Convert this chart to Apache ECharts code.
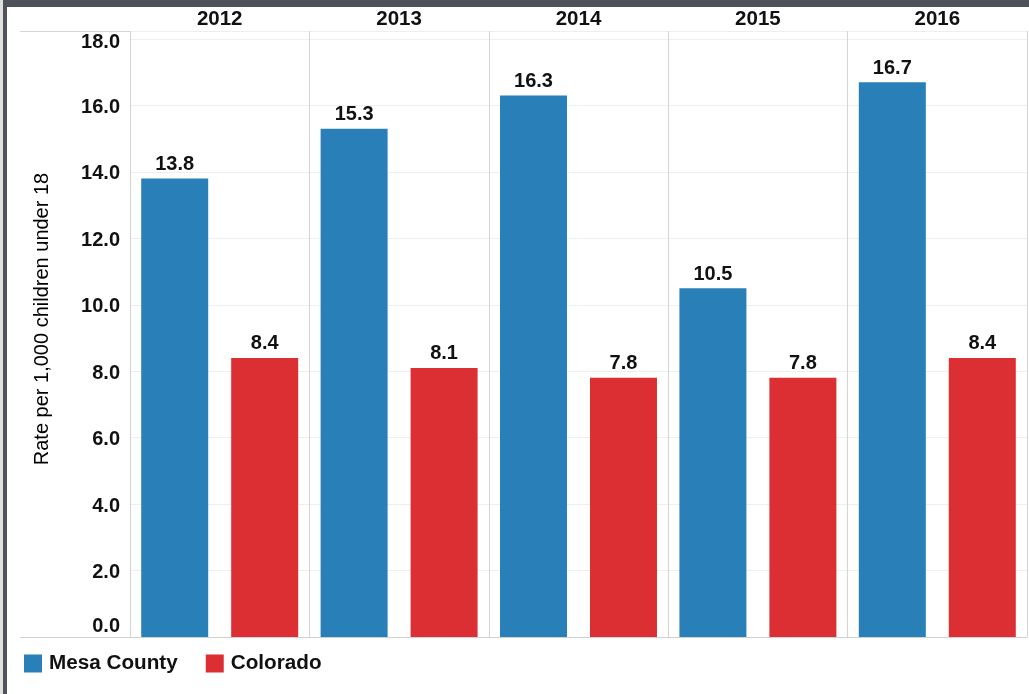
<!DOCTYPE html>
<html>
<head>
<meta charset="utf-8">
<title>Rate per 1,000 children under 18</title>
<script src="https://cdn.jsdelivr.net/npm/echarts@6/dist/echarts.min.js"></script>
<style>
  html, body { margin: 0; padding: 0; background: #ffffff; }
  #chart { width: 1029px; height: 694px; }
</style>
</head>
<body>
<div id="chart"></div>
<script>
// Years shown as column headers
const years = ['2012', '2013', '2014', '2015', '2016'];
// Rates per 1,000 children under 18
const mesaCounty = [13.8, 15.3, 16.3, 10.5, 16.7];
const colorado = [8.4, 8.1, 7.8, 7.8, 8.4];
// Value-axis tick labels
const yTicks = [0, 2, 4, 6, 8, 10, 12, 14, 16, 18];

const FONT = '"Liberation Sans", Arial, sans-serif';
const GRID_LINE = '#d4d4d4';
const BLUE = '#2980b9';
const RED = '#dc2f33';
const INK = '#111111';

const chart = echarts.init(document.getElementById('chart'), null, { renderer: 'canvas' });

const labelStyle = {
  show: true,
  position: 'top',
  distance: 4,
  fontFamily: FONT,
  fontSize: 20,
  fontWeight: 'bold',
  color: INK,
  formatter: p => p.value.toFixed(1)
};

// tick label styles: end labels are pulled inside the plot area
const tickFont = { fontFamily: FONT, fontSize: 20, fontWeight: 'bold', color: INK };
const tickRich = {
  top: Object.assign({ padding: [8, 0, 0, 0] }, tickFont),
  mid: Object.assign({ padding: [4, 0, 0, 0] }, tickFont),
  bot: Object.assign({ padding: [0, 0, 22, 0] }, tickFont)
};

function tickLabel(v) {
  const r = Math.round(v * 100) / 100;
  if (yTicks.indexOf(r) < 0) return '';
  const s = r.toFixed(1);
  if (r === yTicks[yTicks.length - 1]) return '{top|' + s + '}';
  if (r === yTicks[0]) return '{bot|' + s + '}';
  return '{mid|' + s + '}';
}

chart.setOption({
  animation: false,
  backgroundColor: '#ffffff',
  textStyle: { fontFamily: FONT },
  grid: { left: 130, right: 2, top: 31, bottom: 57, containLabel: false },
  legend: {
    left: 19,
    top: 648,
    itemWidth: 18,
    itemHeight: 18,
    itemGap: 28,
    icon: 'rect',
    textStyle: { fontFamily: FONT, fontSize: 20.7, fontWeight: 'bold', color: INK, padding: [0, 0, 0, 2] },
    data: ['Mesa County', 'Colorado']
  },
  xAxis: {
    type: 'category',
    position: 'top',
    data: years,
    boundaryGap: true,
    axisLine: { show: true, lineStyle: { color: GRID_LINE, width: 1 } },
    axisTick: { show: true, length: 24, lineStyle: { color: GRID_LINE, width: 1 } },
    axisLabel: { margin: 1, fontFamily: FONT, fontSize: 20.5, fontWeight: 'bold', color: INK },
    splitLine: { show: true, lineStyle: { color: GRID_LINE, width: 1 } }
  },
  yAxis: {
    type: 'value',
    min: 0,
    max: 18.24,
    interval: 2,
    axisLine: { show: false },
    axisTick: { show: false },
    axisLabel: {
      margin: 10,
      formatter: tickLabel,
      rich: tickRich
    },
    splitLine: { show: true, lineStyle: { color: '#eeeeee', width: 1 } }
  },
  series: [
    {
      name: 'Mesa County',
      type: 'bar',
      data: mesaCounty,
      barWidth: 67,
      barGap: '34.3%',
      itemStyle: { color: BLUE },
      label: labelStyle
    },
    {
      name: 'Colorado',
      type: 'bar',
      data: colorado,
      barWidth: 67,
      barGap: '34.3%',
      itemStyle: { color: RED },
      label: labelStyle
    }
  ],
  graphic: [
    // window frame: dark top bar and left edge
    { type: 'rect', shape: { x: 0, y: 0, width: 1029, height: 7 }, style: { fill: '#4f525a' }, z: 100 },
    { type: 'rect', shape: { x: 0, y: 0, width: 3, height: 694 }, style: { fill: '#dfe0df' }, z: 100 },
    { type: 'rect', shape: { x: 3, y: 0, width: 4, height: 694 }, style: { fill: '#4f525a' }, z: 100 },
    // header rule and baseline extended under the axis labels
    { type: 'line', shape: { x1: 20, y1: 31.5, x2: 130, y2: 31.5 }, style: { stroke: GRID_LINE, lineWidth: 1 }, z: 50 },
    { type: 'line', shape: { x1: 20, y1: 637.5, x2: 1027, y2: 637.5 }, style: { stroke: '#d0d0d0', lineWidth: 1 }, z: 50 },
    // value-axis title
    {
      type: 'text',
      x: 42,
      y: 319,
      rotation: Math.PI / 2,
      style: {
        text: 'Rate per 1,000 children under 18',
        fontFamily: FONT,
        fontSize: 20,
        fill: '#000000',
        align: 'center',
        verticalAlign: 'middle'
      },
      z: 50
    }
  ]
});
</script>
</body>
</html>
